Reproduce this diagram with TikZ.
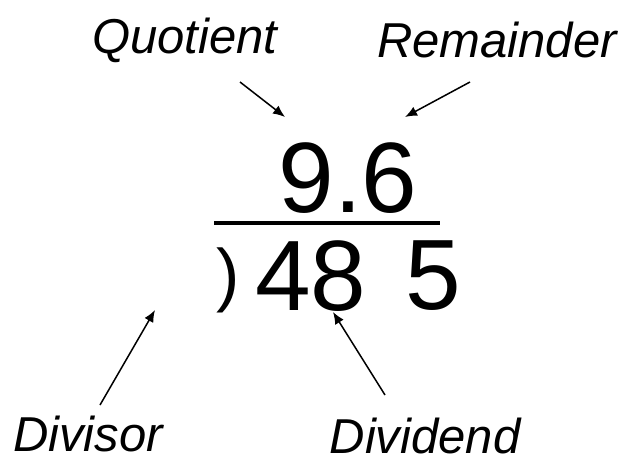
\documentclass[tikz,border=0pt]{standalone}
\usepackage{fontspec}
\usetikzlibrary{arrows.meta}
\setmainfont{Liberation Sans}
\begin{document}
\begin{tikzpicture}[x=1pt,y=-1pt,
  lbl/.style={font=\itshape\fontsize{49}{52}\selectfont,inner sep=0},
  big/.style={font=\fontsize{100}{104}\selectfont,inner sep=0},
  arr/.style={-{Latex[length=12pt,width=10pt]},line width=1.5pt}]
\useasboundingbox (0,0) rectangle (634,465);
\node[lbl] (q) at (185,40) {Quotient};
\node[lbl] (r) at (497,40) {Remainder};
\node[lbl] (dv) at (88,434) {Divisor};
\node[lbl] (dd) at (425,436) {Dividend};
\node[big] (quo) at (348,178) {9.6};
\node[font=\fontsize{70}{74}\selectfont,inner sep=0] (br) at (228,280) {)};
\node[big] (n48) at (311,276) {48};
\node[big] (n5) at (433,276) {5};
\draw[line width=4pt] (214,223) -- (440,223);
\coordinate (qa) at (240,82); \coordinate (qb) at (285,117);
\coordinate (ra) at (470,82); \coordinate (rb) at (405,117);
\coordinate (da) at (100,405); \coordinate (db) at (155,310);
\coordinate (ea) at (385,395); \coordinate (eb) at (333,312);
\draw[arr] (qa) -- (qb);
\draw[arr] (ra) -- (rb);
\draw[arr] (da) -- (db);
\draw[arr] (ea) -- (eb);
\end{tikzpicture}
\end{document}
